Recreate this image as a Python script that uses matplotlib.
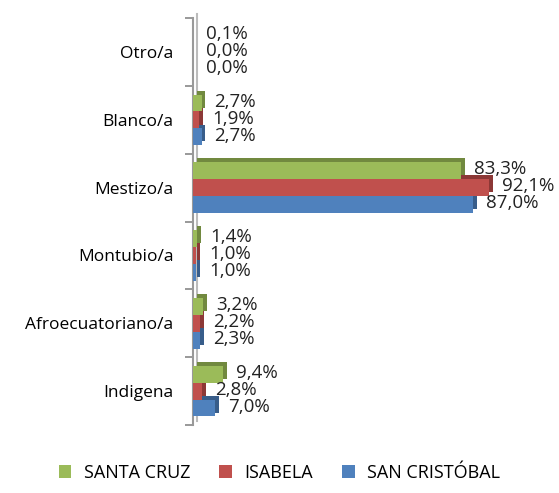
import matplotlib
matplotlib.use("Agg")
import matplotlib.pyplot as plt
import matplotlib.transforms as mtransforms
import numpy as np

plt.rcParams['font.family'] = ['Open Sans', 'DejaVu Sans']

categories = ["Indigena", "Afroecuatoriano/a", "Montubio/a", "Mestizo/a", "Blanco/a", "Otro/a"]
santa_cruz = [9.4, 3.2, 1.4, 83.3, 2.7, 0.1]
isabela = [2.8, 2.2, 1.0, 92.1, 1.9, 0.0]
san_cristobal = [7.0, 2.3, 1.0, 87.0, 2.7, 0.0]

series = [
    ("SANTA CRUZ", santa_cruz, "#9BBB59", "#71893F", 0.25),
    ("ISABELA", isabela, "#C0504D", "#8C3836", 0.0),
    ("SAN CRISTÓBAL", san_cristobal, "#4F81BD", "#385D8A", -0.25),
]

fig = plt.figure(figsize=(5.59, 4.93), dpi=100)
ax = fig.add_axes([0.345, 0.138, 0.576, 0.825])

y = np.arange(len(categories))
h = 0.25
# shift used to fake the 3D depth of the bars
depth = mtransforms.ScaledTranslation(2.8 / 72, 2.8 / 72, fig.dpi_scale_trans)

for name, vals, col, dark, off in series:
    ax.barh(y + off, vals, height=h, color=dark, transform=ax.transData + depth, zorder=2)
    ax.barh(y + off, vals, height=h, color=col, label=name, zorder=3)
    for yi, v in zip(y, vals):
        ax.text(v + 4.0, yi + off + 0.02, f"{v:.1f}%".replace(".", ","),
                va="center", ha="left", fontsize=13.5, color="#222222")

ax.set_xlim(0, 100)
ax.set_ylim(-0.5, 5.5)
ax.set_xticks([])
ax.set_yticks(np.arange(-0.5, 6, 1))
ax.set_yticklabels([])
ax.set_yticks(y, minor=True)
ax.set_yticklabels(categories, minor=True, fontsize=12.5)
ax.tick_params(axis="y", which="major", length=6, color="#888888", width=1.2)
ax.tick_params(axis="y", which="minor", length=0, pad=14)
for s in ["top", "right", "bottom"]:
    ax.spines[s].set_visible(False)
ax.spines["left"].set_color("#999999")
ax.spines["left"].set_linewidth(1.5)
ax.plot([0, 0], [0, 1], color="#BBBBBB", lw=1.5, clip_on=False,
        transform=ax.get_xaxis_transform() + depth, zorder=1)

handles, labels = ax.get_legend_handles_labels()
fig.legend(handles, labels, loc="lower center", ncol=3, frameon=False, fontsize=13,
           handlelength=0.7, handleheight=0.7, handletextpad=0.7, columnspacing=1.6,
           bbox_to_anchor=(0.5, -0.01))

fig.savefig("out.png", dpi=100)
